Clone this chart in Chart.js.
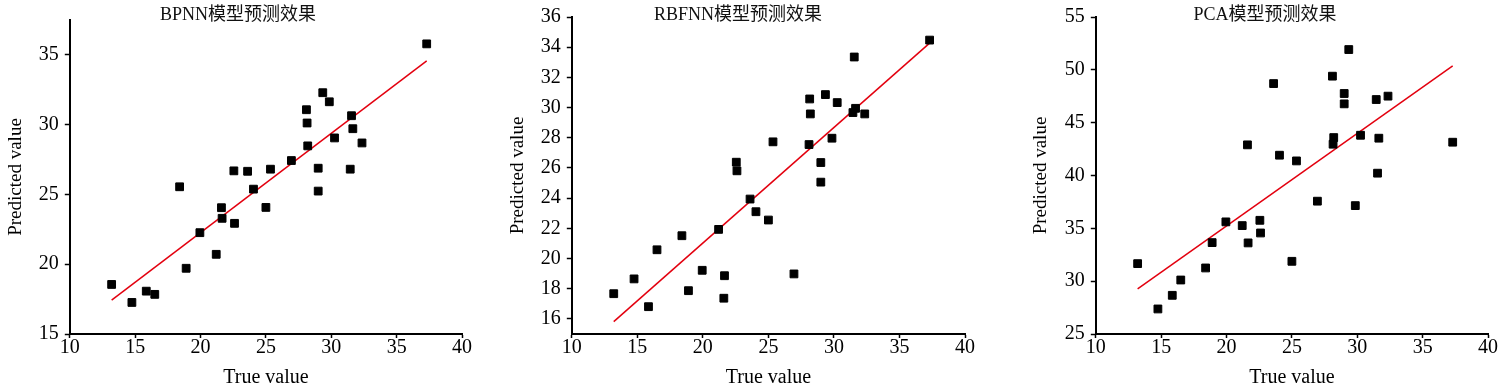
<!DOCTYPE html>
<html>
<head>
<meta charset="utf-8">
<title>BPNN / RBFNN / PCA</title>
<script src="https://cdn.jsdelivr.net/npm/chart.js@4.4.1/dist/chart.umd.min.js"></script>
<style>
  html, body { margin: 0; padding: 0; background: #fff; }
  #wrap { position: relative; width: 1500px; height: 391px; overflow: hidden; }
  #wrap canvas { position: absolute; top: 0; }
</style>
</head>
<body>
<div id="wrap">
  <canvas id="bpnnChart" width="476" height="391" style="left:0px"></canvas>
  <canvas id="rbfnnChart" width="476" height="391" style="left:500px"></canvas>
  <canvas id="pcaChart" width="470" height="391" style="left:1030px"></canvas>
</div>
<script>
// true values (shared by all three models)
const trueValue = [13.2, 14.75, 15.85, 16.5, 18.4, 18.9, 19.95, 21.2, 21.6, 21.65,
                   22.55, 22.6, 23.6, 24.05, 25.0, 25.35, 26.95, 28.1, 28.15, 28.2,
                   29.0, 29.0, 29.35, 29.85, 30.25, 31.45, 31.55, 31.65, 32.35, 37.3];

// predicted values per model
const bpnnPred  = [18.55, 17.26, 18.07, 17.84, 25.55, 19.71, 22.26, 20.71, 24.05, 23.29,
                   26.69, 22.93, 26.66, 25.38, 24.07, 26.81, 27.43, 31.07, 30.12, 28.48,
                   26.88, 25.24, 32.29, 31.64, 29.05, 26.81, 30.64, 29.71, 28.69, 35.79];
const rbfnnPred = [17.67, 18.65, 16.81, 20.58, 21.51, 17.87, 19.22, 21.93, 17.37, 18.86,
                   26.38, 25.81, 23.94, 23.10, 22.55, 27.73, 18.98, 27.55, 30.57, 29.58,
                   26.36, 25.06, 30.86, 27.97, 30.33, 29.67, 33.35, 29.95, 29.58, 34.47];
const pcaPred   = [31.66, 27.37, 28.66, 30.11, 31.25, 33.65, 35.61, 35.26, 42.90, 33.62,
                   35.76, 34.56, 48.70, 41.92, 31.88, 41.38, 37.57, 49.40, 42.96, 43.59,
                   46.78, 47.76, 51.92, 37.15, 43.81, 47.19, 40.22, 43.53, 47.51, 43.15];

// fitted lines (end points)
const fitX     = [13.2, 37.3];
const bpnnFit  = [17.43, 34.57];
const rbfnnFit = [15.82, 34.27];
const pcaFit   = [29.26, 50.38];

// axes
const xRange = [10, 40];
const xTicks = [10, 15, 20, 25, 30, 35, 40];
const bpnnYRange  = [15, 37.5];
const bpnnYTicks  = [15, 20, 25, 30, 35];
const rbfnnYRange = [15, 36];
const rbfnnYTicks = [16, 18, 20, 22, 24, 26, 28, 30, 32, 34, 36];
const pcaYRange   = [25, 55];
const pcaYTicks   = [25, 30, 35, 40, 45, 50, 55];

const FONT = '"Liberation Serif", "Times New Roman", "Noto Sans CJK SC", serif';

// title drawn by hand so it can sit beside the top of the y axis
const panelTitle = {
    id: 'panelTitle',
    afterDraw(chart, args, opts) {
        const ctx = chart.ctx;
        ctx.save();
        ctx.font = '18px ' + FONT;
        ctx.fillStyle = '#111';
        ctx.textAlign = 'center';
        ctx.textBaseline = 'middle';
        ctx.fillText(opts.text, chart.width / 2, 15);
        ctx.restore();
    }
};

function makeChart(id, title, preds, fit, yRange, yTicks, lay) {
    const ctx = document.getElementById(id).getContext('2d');
    return new Chart(ctx, {
        type: 'scatter',
        data: {
            datasets: [{
                data: trueValue.map((x, i) => ({ x: x, y: preds[i] })),
                pointStyle: 'rect',
                pointRadius: 5.5,
                backgroundColor: '#000',
                borderColor: '#000',
                borderWidth: 1,
                showLine: false
            }, {
                data: fitX.map((x, i) => ({ x: x, y: fit[i] })),
                showLine: true,
                borderColor: '#e3000f',
                borderWidth: 1.5,
                pointRadius: 0,
                fill: false
            }]
        },
        options: {
            responsive: false,
            animation: false,
            layout: { padding: { left: 0, right: lay.right, top: lay.top, bottom: 0 } },
            plugins: {
                legend: { display: false },
                tooltip: { enabled: false },
                panelTitle: { text: title }
            },
            scales: {
                x: {
                    type: 'linear',
                    min: xRange[0],
                    max: xRange[1],
                    afterBuildTicks: axis => { axis.ticks = xTicks.map(v => ({ value: v })); },
                    grid: { drawOnChartArea: false, drawTicks: true, tickLength: 4, tickColor: '#000', tickWidth: 1.5 },
                    border: { color: '#000', width: 2 },
                    ticks: { color: '#000', padding: 0, maxRotation: 0, autoSkip: false,
                             font: { family: FONT, size: 20, lineHeight: 1 } },
                    title: { display: true, text: 'True value', color: '#000',
                             font: { family: FONT, size: 20, lineHeight: 1.2 },
                             padding: { top: 8, bottom: 1 } }
                },
                y: {
                    type: 'linear',
                    min: yRange[0],
                    max: yRange[1],
                    afterBuildTicks: axis => { axis.ticks = yTicks.map(v => ({ value: v })); },
                    grid: { drawOnChartArea: false, drawTicks: true, tickLength: 5, tickColor: '#000', tickWidth: 1.5 },
                    border: { color: '#000', width: 2 },
                    ticks: { color: '#000', padding: 6, autoSkip: false,
                             font: { family: FONT, size: 20, lineHeight: 1 } },
                    title: { display: true, text: 'Predicted value', color: '#000',
                             font: { family: FONT, size: 19, lineHeight: 1.2 },
                             padding: { top: lay.pt, bottom: lay.pb } }
                }
            }
        },
        plugins: [panelTitle]
    });
}

makeChart('bpnnChart', 'BPNN模型预测效果', bpnnPred, bpnnFit, bpnnYRange, bpnnYTicks,
          { right: 14, top: 20, pt: 5, pb: 5 });
makeChart('rbfnnChart', 'RBFNN模型预测效果', rbfnnPred, rbfnnFit, rbfnnYRange, rbfnnYTicks,
          { right: 11, top: 17, pt: 7, pb: 5 });
makeChart('pcaChart', 'PCA模型预测效果', pcaPred, pcaFit, pcaYRange, pcaYTicks,
          { right: 12, top: 17, pt: 0, pb: 6 });
</script>
</body>
</html>
